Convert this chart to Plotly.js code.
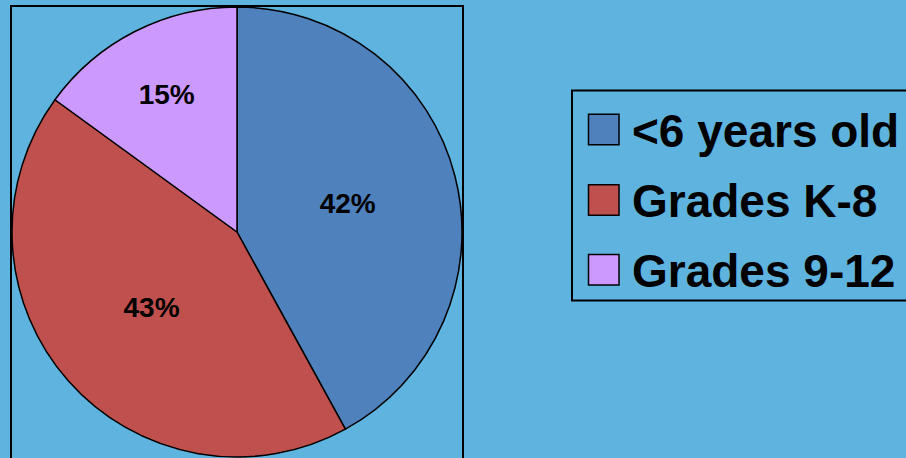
<!DOCTYPE html>
<html>
<head>
<meta charset="utf-8">
<script src="https://cdn.plot.ly/plotly-3.0.1.min.js"></script>
<style>
html,body{margin:0;padding:0;background:#5EB3DF;}
#chart{width:906px;height:458px;}
</style>
</head>
<body>
<div id="chart"></div>
<script>
var categories = ['<6 years old', 'Grades K-8', 'Grades 9-12'];
var values = [42, 43, 15];
var colors = ['#4F81BD', '#C0504D', '#CC99FF'];

var W = 906, H = 458;
function px(x){ return x / W; }
function py(y){ return 1 - y / H; }

var trace = {
  type: 'pie',
  labels: categories,
  values: values,
  sort: false,
  direction: 'clockwise',
  rotation: 0,
  marker: {colors: colors, line: {color: '#000000', width: 1.5}},
  texttemplate: '%{percent:.0%}',
  textposition: 'inside',
  insidetextorientation: 'horizontal',
  textfont: {family: 'Liberation Sans, Arial, sans-serif', size: 28, color: '#000000', weight: 'bold'},
  hoverinfo: 'none',
  showlegend: false,
  domain: {x: [px(12), px(462)], y: [py(457), py(7)]}
};

var shapes = [
  {type: 'rect', xref: 'paper', yref: 'paper', x0: px(11), x1: px(463), y0: py(470), y1: py(6),
   line: {color: '#000000', width: 2}, fillcolor: 'rgba(0,0,0,0)', layer: 'below'},
  {type: 'rect', xref: 'paper', yref: 'paper', x0: px(572), x1: px(920), y0: py(300.5), y1: py(90.5),
   line: {color: '#000000', width: 2}, fillcolor: 'rgba(0,0,0,0)'}
];
var annotations = [];
var rowY = [129.5, 200, 269.7];
for (var i = 0; i < categories.length; i++) {
  shapes.push({type: 'rect', xref: 'paper', yref: 'paper',
    x0: px(588.5), x1: px(619), y0: py(rowY[i] + 15.3), y1: py(rowY[i] - 15.3),
    fillcolor: colors[i], line: {color: '#000000', width: 1.5}});
  annotations.push({xref: 'paper', yref: 'paper', x: px(630), y: py(rowY[i] + 1),
    xanchor: 'left', yanchor: 'middle', showarrow: false, text: categories[i].replace('<', '&lt;'),
    font: {family: 'Liberation Sans, Arial, sans-serif', size: 46, color: '#000000', weight: 'bold'}});
}

var layout = {
  width: W, height: H,
  margin: {l: 0, r: 0, t: 0, b: 0},
  paper_bgcolor: '#5EB3DF',
  plot_bgcolor: '#5EB3DF',
  showlegend: false,
  shapes: shapes,
  annotations: annotations
};

Plotly.newPlot('chart', [trace], layout, {displayModeBar: false, staticPlot: true});
</script>
</body>
</html>
